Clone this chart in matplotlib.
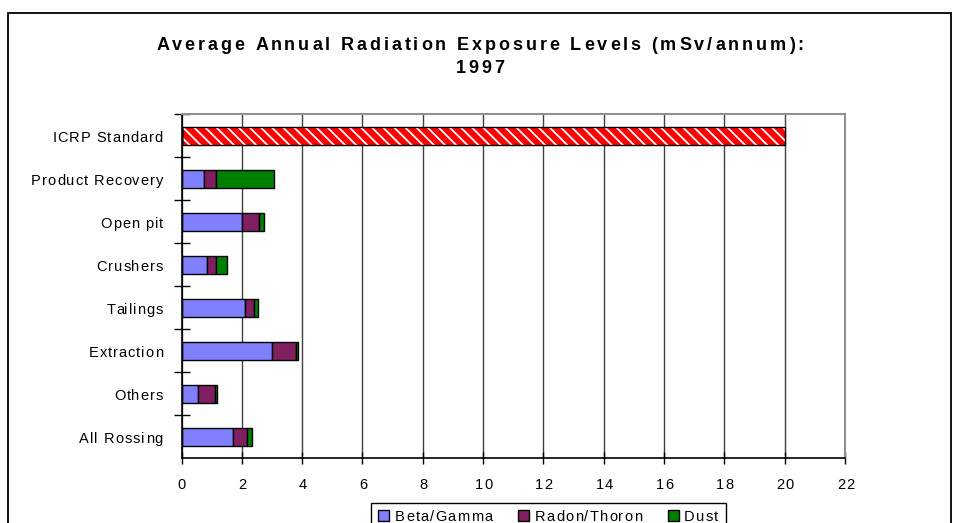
import matplotlib
matplotlib.use("Agg")
import matplotlib.pyplot as plt
from matplotlib.patches import Rectangle
from matplotlib.font_manager import FontProperties

plt.rcParams['font.family'] = ['Liberation Sans', 'DejaVu Sans']
plt.rcParams['hatch.linewidth'] = 1.3

categories = ["ICRP Standard", "Product Recovery", "Open pit", "Crushers",
              "Tailings", "Extraction", "Others", "All Rossing"]
beta_gamma = [0, 0.74, 2.00, 0.85, 2.10, 3.00, 0.55, 1.71]
radon_thoron = [0, 0.42, 0.56, 0.29, 0.29, 0.80, 0.55, 0.47]
dust = [0, 1.90, 0.16, 0.38, 0.14, 0.06, 0.08, 0.16]
icrp_standard = [20, 0, 0, 0, 0, 0, 0, 0]
x_ticks = list(range(0, 23, 2))
series_names = ["Beta/Gamma", "Radon/Thoron", "Dust"]
series_colors = ['#8080FF', '#802060', '#008000']
title_lines = ["Average Annual Radiation Exposure Levels (mSv/annum):", "1997"]

W, H = 959, 523
fig = plt.figure(figsize=(W / 100, H / 100), dpi=100)
renderer = fig.canvas.get_renderer()


def text_w(s, prop):
    if not s:
        return 0.0
    w, _, _ = renderer.get_text_width_height_descent(s, prop, ismath=False)
    return w


def spaced(x, y, s, size, weight='normal', sp=1.0, ha='left'):
    """Draw letter-spaced text; x, y in pixels from top-left, y = baseline."""
    prop = FontProperties(family=['Liberation Sans', 'DejaVu Sans'], size=size, weight=weight)
    total = text_w(s, prop) + sp * (len(s) - 1)
    if ha == 'right':
        x0 = x - total
    elif ha == 'center':
        x0 = x - total / 2
    else:
        x0 = x
    for i, ch in enumerate(s):
        if ch == ' ':
            continue
        xi = x0 + text_w(s[:i], prop) + sp * i
        fig.text(xi / W, 1 - y / H, ch, ha='left', va='baseline', fontproperties=prop)


fig.patches.append(Rectangle((8 / W, -0.1), (951 - 8) / W, 1 - 13 / H + 0.1,
                             transform=fig.transFigure, fill=False,
                             edgecolor='black', linewidth=1.3))

ax_l, ax_r, ax_t, ax_b = 181.5, 845, 114.3, 458.3
ax = fig.add_axes([ax_l / W, 1 - ax_b / H, (ax_r - ax_l) / W, (ax_b - ax_t) / H])
ypos = list(range(len(categories)))
h = 0.42
ax.barh(ypos, icrp_standard, height=h, color='#FF0000', edgecolor='white',
        hatch='\\\\\\', linewidth=0, zorder=3)
ax.barh(ypos, icrp_standard, height=h, fill=False, edgecolor='black',
        linewidth=1.0, zorder=4)
left2 = list(beta_gamma)
left3 = [b + r for b, r in zip(beta_gamma, radon_thoron)]
ax.barh(ypos, beta_gamma, height=h, color=series_colors[0], edgecolor='black', linewidth=1.0, zorder=3)
ax.barh(ypos, radon_thoron, left=left2, height=h, color=series_colors[1], edgecolor='black', linewidth=1.0, zorder=3)
ax.barh(ypos, dust, left=left3, height=h, color=series_colors[2], edgecolor='black', linewidth=1.0, zorder=3)

ax.set_xlim(0, 22)
ax.set_ylim(len(categories) - 0.5, -0.5)
ax.set_xticks(x_ticks)
ax.set_xticklabels([])
ax.set_yticks(ypos)
ax.set_yticklabels([])
ax.tick_params(axis='y', length=0)
ax.set_yticks([i + 0.5 for i in range(-1, len(categories) - 1)], minor=True)
ax.tick_params(axis='y', which='minor', direction='inout', length=12, width=1.0)
ax.tick_params(axis='x', direction='inout', length=8, width=1.0)
ax.grid(axis='x', color='#404040', linewidth=1.0, zorder=0)
ax.set_axisbelow(True)
for s in ['top', 'right']:
    ax.spines[s].set_color('#909090')
    ax.spines[s].set_linewidth(1.5)
for s in ['left', 'bottom']:
    ax.spines[s].set_linewidth(1.2)

# tick labels (letter-spaced), positioned via the axes scales
fig.canvas.draw()
for i, cat in enumerate(categories):
    _, yd = ax.transData.transform((0, i))
    spaced(163, H - yd + 6, cat, 10.5, sp=1.0, ha='right')
for t in x_ticks:
    xd, _ = ax.transData.transform((t, 0))
    spaced(xd + 0.5, 489, str(t), 10.5, sp=1.2, ha='center')

# title
spaced(480, 50, title_lines[0], 13, weight='bold', sp=2.9, ha='center')
spaced(480, 73, title_lines[1], 13, weight='bold', sp=2.9, ha='center')

# legend
fig.patches.append(Rectangle((371 / W, -0.1), (726 - 371) / W, 1 - 503 / H + 0.1,
                             transform=fig.transFigure, fill=False,
                             edgecolor='black', linewidth=1.0))
leg_sq_x = [378, 518, 668]
leg_tx_x = [395, 535, 684]
for name, col, sx, tx in zip(series_names, series_colors, leg_sq_x, leg_tx_x):
    fig.patches.append(Rectangle((sx / W, 1 - 521 / H), 11 / W, 11 / H,
                                 transform=fig.transFigure, facecolor=col,
                                 edgecolor='black', linewidth=1.0))
    spaced(tx, 521, name, 10.5, sp=1.2, ha='left')

fig.savefig("out.png", dpi=100)
